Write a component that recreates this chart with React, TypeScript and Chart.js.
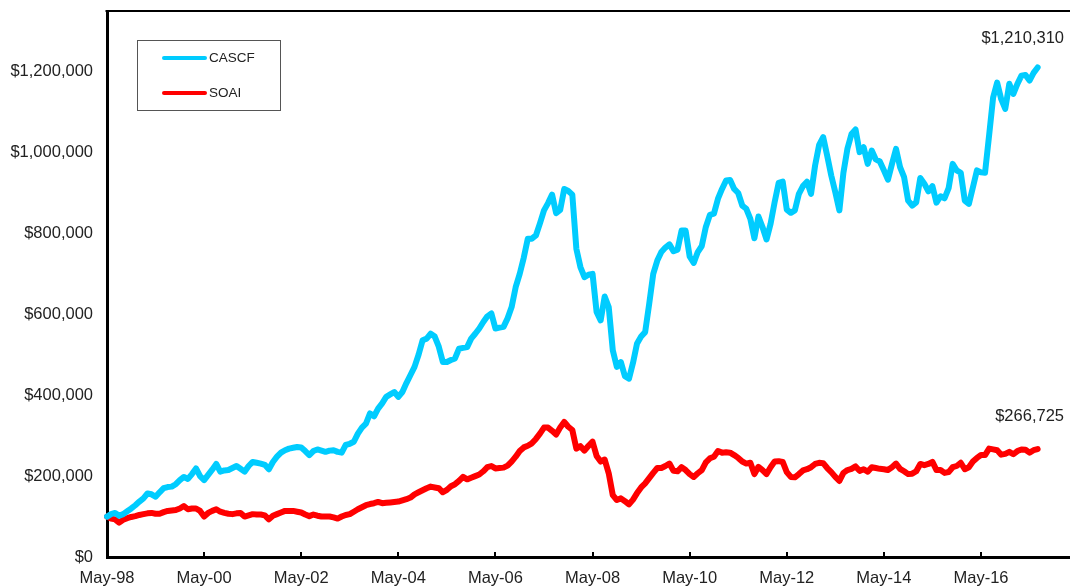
import { useEffect, useRef } from "react";
import { Chart, registerables } from "chart.js";

Chart.register(...registerables);

const FONT = "'Liberation Sans', Arial, Helvetica, sans-serif";
const FONT_SIZE = 16.5;
const CASCF_COLOR = "#00CCFF";
const SOAI_COLOR = "#FF0000";

const monthNames = ["Jan", "Feb", "Mar", "Apr", "May", "Jun", "Jul", "Aug", "Sep", "Oct", "Nov", "Dec"];
const START_YEAR = 1998;
const START_MONTH = 4; // May
const AXIS_MONTHS = 239;

const categories: string[] = Array.from({ length: AXIS_MONTHS }, (_, i) => {
  const m = (START_MONTH + i) % 12;
  const y = START_YEAR + Math.floor((START_MONTH + i) / 12);
  return `${monthNames[m]}-${String(y % 100).padStart(2, "0")}`;
});

const tickLabels = ["May-98", "May-00", "May-02", "May-04", "May-06", "May-08", "May-10", "May-12", "May-14", "May-16"];
const yTicks = [0, 200000, 400000, 600000, 800000, 1000000, 1200000];
const Y_MAX = 1350000;
const seriesNames = ["CASCF", "SOAI"];

const cascf = [
  100000, 106000, 109000, 102000, 106000, 113000, 120000, 128000, 137000, 145000,
  157000, 155000, 149000, 160000, 170000, 173000, 174000, 180000, 190000, 198000,
  193000, 205000, 219000, 200000, 190000, 203000, 216000, 230000, 211000, 214000,
  215000, 220000, 225000, 218000, 211000, 225000, 235000, 233000, 231000, 228000,
  217000, 235000, 248000, 258000, 264000, 268000, 270000, 272000, 271000, 262000,
  252000, 262000, 266000, 263000, 260000, 263000, 264000, 260000, 258000, 277000,
  280000, 285000, 305000, 320000, 330000, 355000, 348000, 367000, 380000, 396000,
  402000, 408000, 396000, 408000, 430000, 450000, 470000, 500000, 536000, 540000,
  552000, 545000, 520000, 482000, 482000, 487000, 491000, 515000, 517000, 519000,
  540000, 552000, 565000, 581000, 595000, 602000, 565000, 567000, 569000, 590000,
  618000, 667000, 700000, 740000, 787000, 787000, 795000, 825000, 857000, 875000,
  896000, 850000, 858000, 910000, 905000, 896000, 762000, 717000, 692000, 698000,
  700000, 606000, 585000, 644000, 618000, 511000, 470000, 482000, 447000, 441000,
  480000, 528000, 545000, 556000, 626000, 700000, 733000, 754000, 765000, 773000,
  756000, 760000, 807000, 807000, 743000, 727000, 754000, 769000, 816000, 846000,
  849000, 886000, 910000, 931000, 932000, 910000, 900000, 869000, 861000, 836000,
  788000, 842000, 816000, 785000, 824000, 877000, 925000, 928000, 859000, 851000,
  857000, 898000, 917000, 928000, 898000, 968000, 1019000, 1038000, 992000, 943000,
  902000, 857000, 950000, 1010000, 1046000, 1057000, 1001000, 1013000, 972000, 1005000,
  983000, 978000, 956000, 933000, 972000, 1009000, 964000, 939000, 881000, 869000,
  877000, 937000, 923000, 904000, 917000, 876000, 892000, 887000, 912000, 972000,
  956000, 950000, 881000, 873000, 914000, 956000, 951000, 950000, 1042000, 1136000,
  1173000, 1132000, 1108000, 1170000, 1145000, 1170000, 1190000, 1192000, 1178000, 1197000,
  1210310,
];

const soai = [
  100000, 95000, 93000, 85000, 92000, 96000, 99000, 101000, 104000, 106000,
  108000, 109000, 107000, 107000, 111000, 114000, 115000, 116000, 120000, 126000,
  118000, 120000, 120000, 114000, 100000, 109000, 114000, 118000, 112000, 109000,
  107000, 106000, 108000, 109000, 100000, 103000, 106000, 105000, 105000, 103000,
  93000, 102000, 106000, 110000, 114000, 114000, 114000, 112000, 110000, 105000,
  101000, 105000, 102000, 100000, 100000, 100000, 98000, 95000, 100000, 104000,
  106000, 112000, 118000, 123000, 128000, 131000, 133000, 136000, 133000, 134000,
  135000, 136000, 137000, 140000, 143000, 147000, 155000, 160000, 165000, 170000,
  174000, 172000, 170000, 160000, 166000, 175000, 180000, 188000, 198000, 192000,
  196000, 200000, 204000, 212000, 222000, 225000, 219000, 220000, 221000, 226000,
  236000, 248000, 262000, 271000, 275000, 281000, 292000, 305000, 320000, 320000,
  312000, 303000, 320000, 334000, 322000, 314000, 268000, 274000, 263000, 275000,
  285000, 250000, 236000, 241000, 207000, 153000, 141000, 145000, 138000, 130000,
  142000, 158000, 172000, 182000, 195000, 208000, 220000, 220000, 225000, 231000,
  213000, 212000, 222000, 215000, 205000, 198000, 207000, 215000, 234000, 244000,
  248000, 262000, 258000, 259000, 258000, 252000, 245000, 236000, 231000, 233000,
  205000, 223000, 215000, 205000, 222000, 236000, 237000, 235000, 210000, 198000,
  197000, 205000, 214000, 217000, 222000, 230000, 233000, 232000, 220000, 210000,
  198000, 188000, 208000, 215000, 218000, 224000, 213000, 217000, 211000, 222000,
  220000, 218000, 217000, 215000, 222000, 231000, 218000, 212000, 205000, 206000,
  212000, 230000, 227000, 230000, 235000, 215000, 215000, 208000, 210000, 222000,
  225000, 233000, 217000, 222000, 236000, 245000, 252000, 252000, 268000, 266000,
  264000, 253000, 255000, 260000, 254000, 262000, 266000, 265000, 258000, 264000,
  266725,
];

const fmtMoney = (v: number) => "$" + Math.round(v).toLocaleString("en-US");

const decorPlugin = {
  id: "decor",
  afterDraw(chart: any) {
    const { ctx, chartArea } = chart;
    const xs = chart.scales.x;
    const ys = chart.scales.y;
    ctx.save();
    // top border
    ctx.strokeStyle = "#000";
    ctx.lineWidth = 2;
    ctx.beginPath();
    ctx.moveTo(chartArea.left - 1.5, chartArea.top);
    ctx.lineTo(chartArea.right, chartArea.top);
    ctx.stroke();
    // inward tick marks on x axis
    ctx.lineWidth = 2;
    categories.forEach((c, i) => {
      if (!tickLabels.includes(c)) return;
      const x = Math.round(xs.getPixelForValue(i));
      ctx.beginPath();
      ctx.moveTo(x, chartArea.bottom);
      ctx.lineTo(x, chartArea.bottom - 5);
      ctx.stroke();
    });
    // end value labels
    ctx.fillStyle = "#222";
    ctx.font = `${FONT_SIZE}px ${FONT}`;
    ctx.textAlign = "right";
    ctx.textBaseline = "alphabetic";
    const lastA = cascf[cascf.length - 1];
    const lastB = soai[soai.length - 1];
    ctx.fillText(fmtMoney(lastA), 1064, ys.getPixelForValue(lastA) - 24);
    ctx.fillText(fmtMoney(lastB), 1064, ys.getPixelForValue(lastB) - 28);
    // legend box
    const lx = 137.5, ly = 40.5, lw = 143, lh = 70;
    ctx.strokeStyle = "#555";
    ctx.lineWidth = 1;
    ctx.fillStyle = "#fff";
    ctx.fillRect(lx, ly, lw, lh);
    ctx.strokeRect(lx, ly, lw, lh);
    const rows = [58, 93];
    chart.data.datasets.forEach((ds: any, k: number) => {
      const y = rows[k];
      ctx.strokeStyle = ds.borderColor;
      ctx.lineWidth = 4;
      ctx.lineCap = "round";
      ctx.beginPath();
      ctx.moveTo(164, y);
      ctx.lineTo(205, y);
      ctx.stroke();
      ctx.fillStyle = "#222";
      ctx.font = `13.5px ${FONT}`;
      ctx.textAlign = "left";
      ctx.textBaseline = "middle";
      ctx.fillText(ds.label, 209, y + 0.5);
    });
    ctx.restore();
  },
};

export default function App() {
  const ref = useRef<HTMLCanvasElement>(null);
  useEffect(() => {
    document.body.style.margin = "0";
    const canvas = ref.current!;
    const lineStyle = {
      borderWidth: 6,
      pointRadius: 0,
      tension: 0,
      fill: false,
      borderJoinStyle: "round" as const,
      borderCapStyle: "round" as const,
    };
    const chart = new Chart(canvas, {
      type: "line",
      data: {
        labels: categories,
        datasets: [
          { label: seriesNames[0], data: cascf, borderColor: CASCF_COLOR, backgroundColor: CASCF_COLOR, ...lineStyle },
          { label: seriesNames[1], data: soai, borderColor: SOAI_COLOR, backgroundColor: SOAI_COLOR, ...lineStyle },
        ],
      },
      options: {
        responsive: false,
        animation: false,
        layout: { padding: { top: 11, right: 0, left: 0, bottom: 0 }, autoPadding: false } as any,
        plugins: { legend: { display: false }, tooltip: { enabled: false } },
        scales: {
          x: {
            type: "category",
            grid: { display: false, drawTicks: false },
            border: { display: true, color: "#000", width: 3 },
            ticks: {
              autoSkip: false,
              maxRotation: 0,
              minRotation: 0,
              padding: 12,
              color: "#222",
              font: { family: FONT, size: FONT_SIZE },
              callback: (_v: any, i: number) => (tickLabels.includes(categories[i]) ? categories[i] : null),
            },
            afterFit: (s: any) => {
              s.height = 31;
              s.paddingLeft = 0;
              s.paddingRight = 0;
            },
          },
          y: {
            min: 0,
            max: Y_MAX,
            grid: { display: false, drawTicks: false },
            border: { display: true, color: "#000", width: 3 },
            afterBuildTicks: (s: any) => {
              s.ticks = yTicks.map((v) => ({ value: v }));
            },
            ticks: {
              autoSkip: false,
              padding: 14,
              color: "#222",
              font: { family: FONT, size: FONT_SIZE },
              callback: (v: any) => fmtMoney(Number(v)),
            },
            afterFit: (s: any) => {
              s.width = 107;
              s.paddingTop = 0;
              s.paddingBottom = 0;
            },
          },
        },
      },
      plugins: [decorPlugin],
    });
    return () => chart.destroy();
  }, []);
  return (
    <div style={{ width: 1070, height: 588, position: "relative" }}>
      <canvas ref={ref} width={1070} height={588} style={{ display: "block" }} />
    </div>
  );
}
